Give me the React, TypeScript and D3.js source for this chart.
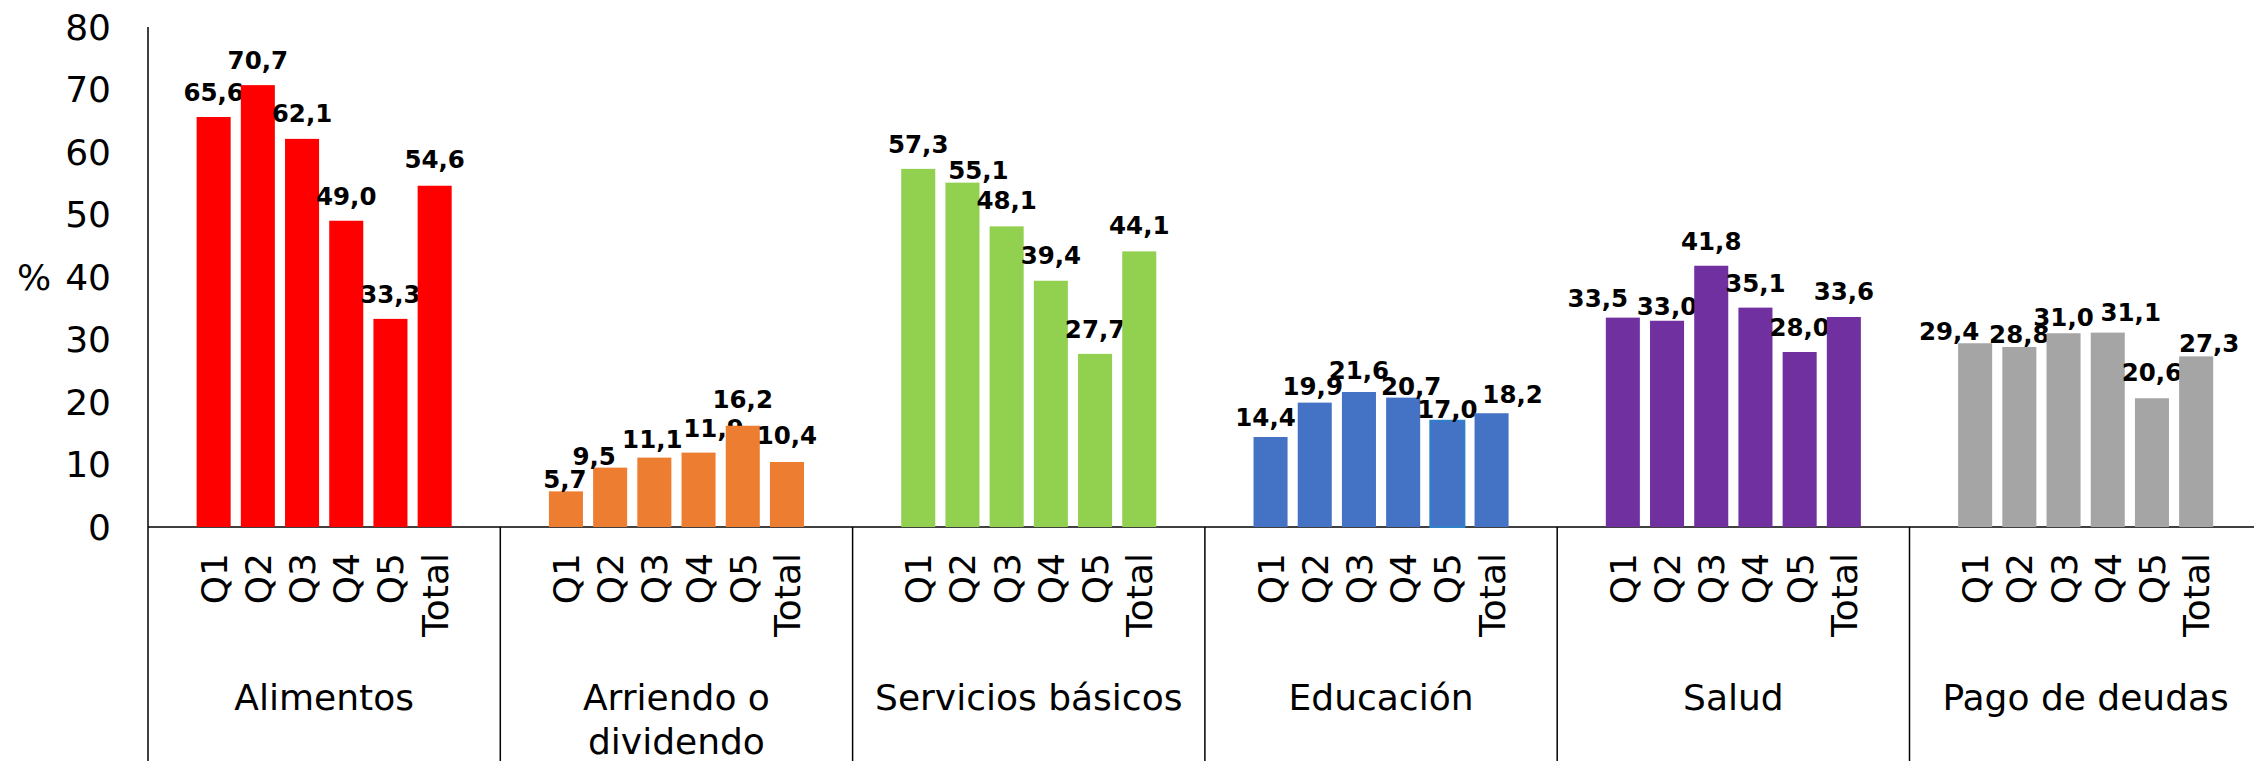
import React from 'react';
import * as d3 from 'd3';

const groups = ['Alimentos', 'Arriendo o dividendo', 'Servicios básicos', 'Educación', 'Salud', 'Pago de deudas'];
const quintiles = ['Q1', 'Q2', 'Q3', 'Q4', 'Q5', 'Total'];
const colors = ['#FF0000', '#ED7D31', '#92D050', '#4472C4', '#7030A0', '#A5A5A5'];

const alimentos = [65.6, 70.7, 62.1, 49.0, 33.3, 54.6];
const arriendo = [5.7, 9.5, 11.1, 11.9, 16.2, 10.4];
const servicios = [57.3, 55.1, 48.1, 39.4, 27.7, 44.1];
const educacion = [14.4, 19.9, 21.6, 20.7, 17.0, 18.2];
const salud = [33.5, 33.0, 41.8, 35.1, 28.0, 33.6];
const deudas = [29.4, 28.8, 31.0, 31.1, 20.6, 27.3];

const yTicks = [0, 10, 20, 30, 40, 50, 60, 70, 80];

const W = 2254;
const H = 761;
const left = 148;
const groupW = 352.3;
const baseY = 527;
const topY = 27;
const font = 'DejaVu Sans, Verdana, sans-serif';

// hand placed value labels in the original: [dx, gap above bar top]
const labelNudge = [
  [[0, 16], [0, 16], [0, 17], [0, 16], [0, 16], [0, 18]],
  [[-1, 3], [-16, 3], [-2, 10], [15, 16], [0, 18], [0, 18]],
  [[0, 16], [16, 4], [0, 17], [0, 17], [0, 16], [0, 17]],
  [[-5, 11], [-2, 8], [0, 13], [8, 3], [0, 3], [21, 10]],
  [[-25, 11], [0, 6], [0, 16], [0, 16], [0, 16], [0, 17]],
  [[-26, 3], [0, 4], [0, 7], [23, 12], [0, 17], [13, 4]],
];

export default function App() {
  const series = [alimentos, arriendo, servicios, educacion, salud, deudas];

  const y = d3.scaleLinear().domain([0, 80]).range([baseY, topY]);
  const gx = d3.scaleBand<string>().domain(groups).range([left, left + groupW * groups.length]).padding(0);
  const fmt = (v: number) => d3.format('.1f')(v).replace('.', ',');

  return (
    <svg width={W} height={H} style={{ position: 'absolute', left: 0, top: 0, background: '#fff' }} fontFamily={font}>
      <line x1={left} x2={left} y1={topY} y2={H} stroke="#000" strokeWidth={1.5} />
      <line x1={left} x2={W} y1={baseY} y2={baseY} stroke="#000" strokeWidth={1.5} />
      {yTicks.map(t => (
        <text key={t} x={111} y={y(t)} dy="0.36em" textAnchor="end" fontSize={36} fill="#000">{t}</text>
      ))}
      <text x={34} y={y(40)} dy="0.36em" textAnchor="middle" fontSize={36} fill="#000">%</text>

      {groups.map((g, gi) => {
        const g0 = gx(g)!;
        const bx = d3.scaleBand<string>().domain(quintiles).range([g0, g0 + groupW]).paddingInner(0.23).paddingOuter(1.1);
        const lines = g === 'Arriendo o dividendo' ? ['Arriendo o', 'dividendo'] : [g];
        return (
          <g key={g}>
            <line x1={g0 + groupW} x2={g0 + groupW} y1={baseY} y2={H} stroke="#000" strokeWidth={1.5} />
            {series[gi].map((v, i) => {
              const x = bx(quintiles[i])!;
              const cx = x + bx.bandwidth() / 2;
              const [dx, gap] = labelNudge[gi][i];
              const selected = gi === 3 && i === 4;
              return (
                <g key={i}>
                  <rect
                    x={x}
                    y={y(v)}
                    width={bx.bandwidth()}
                    height={baseY - y(v)}
                    fill={colors[gi]}
                    stroke={selected ? '#2E80C8' : 'none'}
                    strokeWidth={selected ? 2 : 0}
                  />
                  <text x={cx + dx} y={y(v) - gap} textAnchor="middle" fontSize={24.5} fontWeight="bold" fill="#000">{fmt(v)}</text>
                  <text
                    transform={`translate(${cx},553) rotate(-90)`}
                    dy="0.36em"
                    textAnchor="end"
                    fontSize={36}
                    fill="#000"
                  >{quintiles[i]}</text>
                </g>
              );
            })}
            {lines.map((l, li) => (
              <text key={li} x={g0 + groupW / 2} y={710 + li * 44} textAnchor="middle" fontSize={36} fill="#000">{l}</text>
            ))}
          </g>
        );
      })}
    </svg>
  );
}
